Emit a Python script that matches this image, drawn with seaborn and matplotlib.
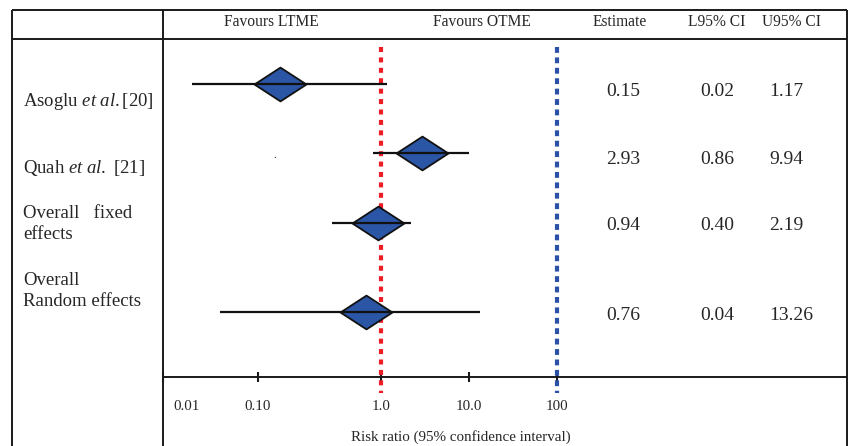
import numpy as np
import pandas as pd
import seaborn as sns
import matplotlib.pyplot as plt
from matplotlib.path import Path
from matplotlib.transforms import ScaledTranslation

studies = ["Asoglu", "Quah", "Overall fixed", "Overall random"]
row_labels = [r"Asoglu $\mathit{et\ al.}$[20]",
              r"Quah $\mathit{et\ al.}$ [21]",
              "Overall   fixed\neffects",
              "Overall\nRandom effects"]
estimate = [0.15, 2.93, 0.94, 0.76]
lower = [0.02, 0.86, 0.40, 0.04]
upper = [1.17, 9.94, 2.19, 13.26]
estimate_txt = ["0.15", "2.93", "0.94", "0.76"]
lower_txt = ["0.02", "0.86", "0.40", "0.04"]
upper_txt = ["1.17", "9.94", "2.19", "13.26"]
headers = ["Favours LTME", "Favours OTME", "Estimate", "L95% CI", "U95% CI"]
tick_vals = [0.01, 0.1, 1, 10, 100]
tick_labels = ["0.01", "0.10", "1.0", "10.0", "100"]

# layout (pixels of the 852x446 canvas)
W, H = 852, 446
row_y = [84, 153, 223, 312]
label_y = [101, 168, 224, 291]
num_y = [92, 159, 226, 316]
col_x = [606, 700, 769]
header_x = [271, 482, 620, 717, 791]
# the hand-drawn axis is not evenly spaced per decade
axis_px = [-380, 0, 95, 218, 306, 394, 746]
axis_log = [-6, -2, -1, 0, 1, 2, 6]

sns.set_theme(style="white")
plt.rcParams['font.family'] = ['Liberation Serif', 'DejaVu Serif']
plt.rcParams['mathtext.fontset'] = 'custom'
plt.rcParams['mathtext.rm'] = 'Liberation Serif'
plt.rcParams['mathtext.it'] = 'Liberation Serif:italic'

df = pd.DataFrame({'study': studies, 'est': estimate, 'lo': lower, 'hi': upper, 'y': row_y})


def fwd(x):
    x = np.clip(np.asarray(x, dtype=float), 1e-9, None)
    return np.interp(np.log10(x), axis_log, axis_px)


def inv(p):
    return 10 ** np.interp(np.asarray(p, dtype=float), axis_px, axis_log)


fig = plt.figure(figsize=(W / 100, H / 100), dpi=100)

# background axes in pixel coords for the table frame and texts
bg = fig.add_axes([0, 0, 1, 1])
bg.set_xlim(0, W)
bg.set_ylim(H, 0)
bg.axis('off')
frame = dict(color='#1a1a1a', lw=1.4, solid_capstyle='butt')
bg.plot([12, 847], [10, 10], **frame)
bg.plot([12, 847], [39, 39], **frame)
bg.plot([12, 12], [10, H], **frame)
bg.plot([163, 163], [10, H], **frame)
bg.plot([847, 847], [10, H], **frame)
bg.plot([163, 847], [377, 377], **frame)

for hx, h in zip(header_x, headers):
    bg.text(hx, 22, h, ha='center', va='center', fontsize=11.2)

for ly, lab in zip(label_y, row_labels):
    bg.text(23, ly, lab, ha='left', va='center', fontsize=13.5, linespacing=1.3)

for i in range(len(studies)):
    bg.text(col_x[0], num_y[i], estimate_txt[i], ha='left', va='center', fontsize=14)
    bg.text(col_x[1], num_y[i], lower_txt[i], ha='left', va='center', fontsize=14)
    bg.text(col_x[2], num_y[i], upper_txt[i], ha='left', va='center', fontsize=14)

bg.text(275, 155, '.', ha='center', va='center', fontsize=8)
bg.text(461, 437, "Risk ratio (95% confidence interval)", ha='center', va='center', fontsize=10.8)

# forest axes
ax = fig.add_axes([163 / W, 1 - 377 / H, (557 - 163) / W, (377 - 39) / H])
ax.patch.set_alpha(0)
ax.set_xscale('function', functions=(fwd, inv))
ax.set_xlim(0.01, 100)
ax.set_ylim(377, 39)
for s in ax.spines.values():
    s.set_visible(False)

ax.plot([1, 1], [47, 393], color='#EE1C25', lw=3, ls=(0, (1.2, 1.3)),
        dash_capstyle='butt', clip_on=False, zorder=1)
ax.plot([100, 100], [47, 393], color='#2B50A8', lw=3, ls=(0, (1.4, 1.1)),
        dash_capstyle='butt', clip_on=False, zorder=1)

diamond = Path([(-1, 0), (0, 0.65), (1, 0), (0, -0.65), (-1, 0)], closed=True)
sns.scatterplot(data=df, x='est', y='y', ax=ax, marker=diamond, s=1400,
                color='#2B55A5', edgecolor='#111111', linewidth=1.3, zorder=2, legend=False)
ax.hlines(df['y'], df['lo'], df['hi'], color='#111111', lw=1.6, zorder=3)

ax.set_xticks(tick_vals)
ax.set_xticklabels(tick_labels, fontsize=10.8)
ax.xaxis.set_minor_locator(plt.NullLocator())
ax.tick_params(axis='x', direction='inout', length=7, width=1.5, color='#1a1a1a',
               bottom=True, pad=13)
ax.set_yticks([])
ax.set_xlabel('')
ax.set_ylabel('')

# the first tick label sits to the right of its tick in the original
first = ax.get_xticklabels()[0]
first.set_transform(first.get_transform() + ScaledTranslation(0.24, 0, fig.dpi_scale_trans))

plt.savefig('out.png', dpi=100)
